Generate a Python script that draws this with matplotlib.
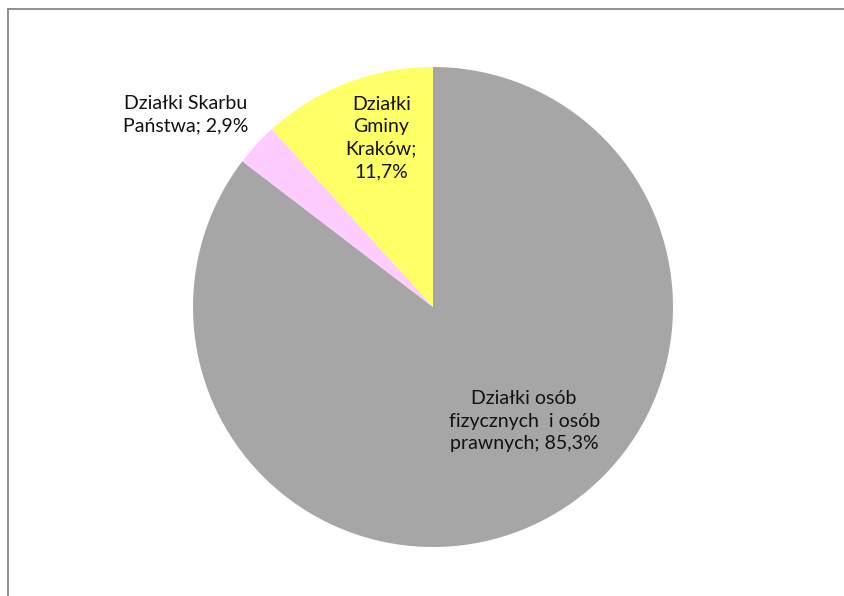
import matplotlib.pyplot as plt
from matplotlib.lines import Line2D

# dane
labels = ['Działki osób\nfizycznych  i osób\nprawnych; 85,3%',
          'Działki Skarbu\nPaństwa; 2,9%',
          'Działki\nGminy\nKraków;\n11,7%']
shares = [85.3, 2.9, 11.7]
colors = ['#a6a6a6', '#ffccff', '#ffff66']

plt.rcParams['font.family'] = ['Lato', 'DejaVu Sans']

fig = plt.figure(figsize=(8.45, 5.96), dpi=100)
W, H = 845, 596
cx, cy, r = 433, 596 - 307, 240
ax = fig.add_axes([(cx - r) / W, (cy - r) / H, 2 * r / W, 2 * r / H])

wedges, _ = ax.pie(shares, colors=colors, startangle=90, counterclock=False,
                   radius=1, wedgeprops=dict(linewidth=0))
ax.set_xlim(-1, 1)
ax.set_ylim(-1, 1)
ax.set_aspect('equal')
ax.axis('off')

# etykiety
label_pos = [(0.38, -0.475), (-1.03, 0.80), (-0.215, 0.704)]
for txt, (x, y) in zip(labels, label_pos):
    ax.text(x, y, txt, ha='center', va='center', fontsize=14,
            linespacing=1.4, color='#111111', clip_on=False)

# ramka wykresu
fig.add_artist(Line2D([8.5 / W, 8.5 / W], [0, 1 - 9 / H], color='#868686', lw=1.3))
fig.add_artist(Line2D([8.5 / W, 1], [1 - 9 / H, 1 - 9 / H], color='#868686', lw=1.3))

fig.savefig('out.png', dpi=100)
